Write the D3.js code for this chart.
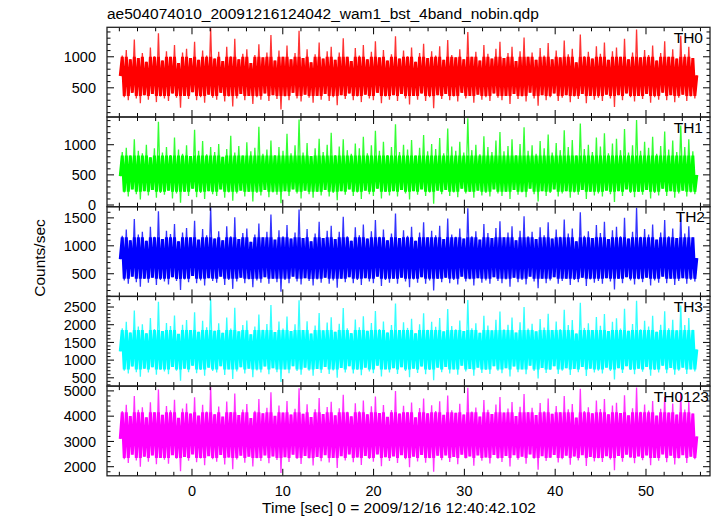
<!DOCTYPE html>
<html><head><meta charset="utf-8">
<script src="https://cdn.jsdelivr.net/npm/d3@7"></script>
<style>body{margin:0;background:#fff}svg text{font-family:"Liberation Sans",Arial,Helvetica,sans-serif;fill:#000}</style>
</head><body><script>
// ---- data (counts/sec, read/estimated from the reference) ----
const th0=[690,1020,350,1110,300,960,420,1280,330,980,250,1060,380,920,310,1150,400,1010,270,1380,360,940,330,1090,
290,1000,410,1190,340,900,180,1070,370,1130,320,980,430,1240,300,950,350,1100,260,1020,390,1460,340,970,
310,1080,420,930,280,1160,360,1010,200,1290,330,960,400,1050,300,1120,370,900,240,1030,350,1200,310,990,
410,1070,290,1350,380,940,320,1100,150,1000,360,1180,300,960,420,1060,330,1420,280,980,390,1120,340,910,
260,1040,370,1230,310,970,400,1090,290,1160,350,950,220,1070,380,1300,320,1000,410,930,300,1140,360,1020,
270,1190,390,960,330,1080,300,1250,420,990,250,1110,360,940,310,1040,380,1330,290,970,400,1100,330,1010,
230,1150,370,920,310,1060,410,1210,290,980,350,1090,170,1020,380,1170,320,950,400,1270,300,1030,360,990,
280,1120,420,960,330,1400,370,1000,260,1080,390,940,310,1190,350,1050,290,970,410,1130,340,1240,300,980,
370,1060,240,1160,400,930,320,1090,360,1310,280,1000,420,1070,330,950,210,1140,380,1020,300,1220,350,960,
410,1100,290,990,340,1260,380,1040,270,1130,360,910,320,1360,400,1010,250,1080,370,970,310,1170,340,1050,
290,1230,390,950,330,1090,190,1150,380,1000,300,1290,410,960,350,1070,280,1440,370,990,320,1110,400,1030,
260,1180,350,940,310,1060,420,1250,300,1000,380,1120,270,970,340,1340,390,1040,290,1160,360,980,330,700];
const th1=[480,880,210,950,140,820,260,1090,180,900,90,860,230,1000,160,790,250,940,120,1380,200,870,170,960,
240,830,110,1120,190,920,40,850,220,990,150,810,270,1250,130,900,200,1060,100,840,230,960,180,880,
150,1010,260,800,120,930,210,1150,70,870,190,980,240,820,140,1040,220,890,60,950,200,1300,160,850,
250,920,130,1070,210,830,170,960,30,900,230,1180,150,860,260,990,190,1420,110,870,240,1030,180,810,
120,940,220,1100,160,880,250,1000,140,1200,200,830,80,970,230,1090,170,910,260,850,150,1020,210,940,
100,1130,240,860,180,990,150,1230,270,900,110,1050,220,830,160,960,230,1340,140,880,250,1000,190,920,
90,1080,230,820,170,950,260,1160,150,890,210,1010,20,930,240,1110,180,860,250,1270,150,970,210,900,
130,1050,270,870,190,1440,220,910,120,1000,240,840,160,1140,200,960,140,880,260,1070,190,1210,150,890,
220,980,100,1090,250,830,170,1010,210,1290,130,900,270,990,180,850,60,1060,230,940,150,1170,200,870,
260,1030,140,910,190,1240,230,960,120,1080,210,820,170,1350,250,930,100,1000,220,880,160,1120,190,970,
140,1190,240,860,180,1020,50,1100,230,910,150,1260,260,870,200,990,130,1410,220,900,170,1050,250,950,
110,1130,200,850,160,980,270,1220,150,920,230,1070,120,880,190,1320,240,960,140,1090,210,890,180,500];
const th2=[760,1180,380,1290,320,1100,450,1480,350,1200,270,1250,410,1090,340,1340,430,1160,300,1620,390,1120,360,1270,
310,1210,440,1390,370,1080,210,1240,400,1320,350,1150,460,1450,330,1110,380,1300,290,1190,420,1690,370,1130,
340,1260,450,1100,300,1350,390,1170,230,1510,360,1120,430,1230,330,1310,400,1070,260,1200,380,1400,340,1150,
440,1250,320,1560,410,1110,350,1280,180,1170,390,1370,330,1130,450,1240,360,1650,310,1140,420,1300,370,1080,
290,1220,400,1430,340,1140,430,1270,320,1360,380,1120,250,1250,410,1520,350,1170,440,1090,330,1330,390,1190,
300,1380,420,1130,360,1260,330,1460,450,1160,280,1290,390,1100,340,1220,410,1580,320,1140,430,1280,360,1180,
260,1340,400,1090,340,1240,440,1420,320,1150,380,1270,200,1190,410,1360,350,1120,430,1490,330,1200,390,1160,
310,1310,450,1130,360,1670,400,1170,290,1260,420,1110,340,1390,380,1230,320,1140,440,1320,370,1440,330,1150,
400,1240,270,1350,430,1100,350,1270,390,1530,310,1170,450,1250,360,1120,240,1330,410,1190,330,1420,380,1130,
440,1290,320,1160,370,1470,410,1220,300,1310,390,1080,350,1600,430,1180,280,1260,400,1140,340,1370,370,1230,
320,1430,420,1120,360,1280,220,1340,410,1170,330,1500,440,1130,380,1250,310,1680,400,1160,350,1300,430,1200,
290,1380,380,1110,340,1240,450,1460,330,1170,410,1310,300,1140,370,1560,420,1220,320,1350,390,1150,360,780];
const th3=[1250,1900,700,2080,620,1780,820,2400,660,1950,530,2010,760,1760,650,2190,800,1880,590,2650,730,1820,680,2050,
600,1960,810,2260,700,1740,420,2000,760,2130,660,1850,840,2350,630,1800,720,2110,560,1930,790,2720,690,1830,
650,2040,830,1770,580,2200,740,1890,470,2480,680,1810,800,1990,620,2120,760,1730,520,1950,710,2290,650,1860,
820,2020,600,2560,770,1790,660,2090,380,1890,740,2230,630,1820,830,2010,690,2690,590,1850,790,2100,700,1750,
560,1980,750,2330,640,1840,810,2060,610,2210,710,1800,500,2030,780,2470,650,1900,830,1760,620,2150,730,1930,
570,2240,790,1830,680,2050,630,2390,840,1880,540,2090,740,1780,650,1990,770,2600,610,1850,800,2070,690,1910,
520,2170,760,1760,640,2010,820,2320,600,1860,720,2080,430,1940,790,2190,660,1810,810,2440,620,1960,740,1870,
590,2120,840,1820,680,2700,750,1900,560,2040,790,1770,640,2250,720,1980,610,1840,830,2140,700,2370,630,1870,
770,2000,540,2200,820,1780,660,2070,740,2500,600,1890,840,2030,690,1810,480,2160,780,1920,640,2310,720,1850,
830,2090,610,1880,700,2420,770,1990,580,2130,750,1750,660,2620,810,1910,550,2040,760,1850,650,2220,700,1970,
620,2300,790,1820,690,2080,450,2180,770,1890,640,2450,830,1830,720,2020,600,2680,760,1870,670,2110,810,1950,
560,2250,720,1800,650,2000,840,2380,630,1900,780,2140,590,1840,700,2540,790,1990,610,2190,740,1860,680,1300];
const th0123=[3100,4200,2300,4450,2150,4000,2480,4800,2250,4250,2000,4350,2400,3950,2200,4550,2450,4150,2100,5050,2350,4050,2280,4400,
2120,4230,2460,4650,2320,3930,1820,4300,2390,4500,2240,4100,2490,4750,2180,4020,2330,4450,2060,4180,2420,5150,2300,4070,
2200,4380,2470,3980,2090,4580,2370,4160,1900,4900,2290,4040,2440,4260,2160,4480,2400,3920,2010,4210,2340,4680,2230,4110,
2450,4330,2140,4950,2410,4010,2270,4420,1750,4140,2380,4600,2190,4060,2480,4290,2310,5100,2110,4090,2430,4470,2330,3960,
2050,4270,2390,4720,2220,4080,2460,4360,2170,4570,2350,4030,1950,4310,2420,4850,2250,4170,2490,3990,2180,4510,2370,4190,
2070,4620,2430,4070,2310,4390,2200,4780,2490,4120,2020,4440,2380,3970,2230,4240,2410,5000,2150,4100,2460,4410,2300,4150,
1980,4540,2400,3950,2210,4320,2470,4700,2160,4110,2340,4430,1800,4200,2440,4590,2260,4050,2450,4820,2190,4230,2390,4130,
2100,4490,2480,4060,2330,5120,2410,4180,2040,4340,2450,3980,2240,4640,2370,4250,2130,4080,2470,4460,2320,4760,2190,4140,
2430,4300,2010,4560,2460,4000,2280,4370,2400,4880,2120,4160,2490,4330,2320,4040,1880,4520,2420,4190,2230,4700,2360,4090,
2470,4400,2170,4150,2300,4800,2440,4270,2080,4480,2410,3940,2250,5080,2460,4200,2030,4350,2390,4110,2210,4620,2340,4280,
2190,4680,2420,4070,2290,4420,1860,4530,2430,4120,2200,4830,2480,4030,2370,4310,2140,5130,2410,4170,2260,4460,2450,4220,
2060,4600,2350,4020,2240,4290,2490,4760,2180,4140,2440,4500,2090,4060,2330,4920,2460,4260,2150,4580,2400,4100,2300,3200];

const seriesNames=["TH0","TH1","TH2","TH3","TH0123"];
const seriesValues=[th0,th1,th2,th3,th0123];
const seriesColors=["#ff0000","#00ff00","#0000ff","#00ffff","#ff00ff"];
// dense, saturated part of each band
const coreBands=[[370,1000],[220,820],[410,1150],[740,1850],[2350,4150]];
const yDomains=[[30,1475],[-28,1460],[95,1700],[266,2800],[1640,5190]];
const yTickLabels=[[500,1000],[0,500,1000],[500,1000,1500],[500,1000,1500,2000,2500],[2000,3000,4000,5000]];
const yMinorStep=[100,100,100,100,200];
const xDomain=[-9.36,57.05];
const xTickLabels=[0,10,20,30,40,50];
const xMinorStep=2;
const timeRange=[-7.9,55.6];
const titleText="ae504074010_20091216124042_wam1_bst_4band_nobin.qdp";
const xLabel="Time [sec] 0 = 2009/12/16 12:40:42.102";
const yLabel="Counts/sec";

// ---- layout ----
const W=717,H=516,L=107,R=710,TOP=27.3,PH=89.7;
const svg=d3.select("body").append("svg").attr("width",W).attr("height",H);
const x=d3.scaleLinear().domain(xDomain).range([L,R]);
const labelRight=[703,703,705,703,709];

seriesValues.forEach((vals,k)=>{
  const top=TOP+k*PH, bot=top+PH;
  const y=d3.scaleLinear().domain(yDomains[k]).range([bot,top]);
  const n=vals.length;
  const t=d3.range(n).map(i=>timeRange[0]+i*(timeRange[1]-timeRange[0])/(n-1));
  const cid="clip"+k;
  svg.append("clipPath").attr("id",cid).append("rect").attr("x",L).attr("y",top).attr("width",R-L).attr("height",PH);
  const lineThin=d3.line().x((d,i)=>x(t[i])).y(d=>y(d));
  const cb=coreBands[k];
  const lineCore=d3.line().x((d,i)=>x(t[i])).y(d=>y(Math.max(cb[0],Math.min(cb[1],d))));
  svg.append("path").datum(vals)
    .attr("clip-path",`url(#${cid})`)
    .attr("fill","none").attr("stroke",seriesColors[k]).attr("stroke-width",1.3).attr("stroke-opacity",0.8)
    .attr("d",lineThin);
  svg.append("path").datum(vals)
    .attr("clip-path",`url(#${cid})`)
    .attr("fill","none").attr("stroke",seriesColors[k]).attr("stroke-width",3)
    .attr("d",lineCore);
  const g=svg.append("g").attr("stroke","#000").attr("stroke-width",1);
  // y ticks
  const d0=yDomains[k][0], d1=yDomains[k][1], st=yMinorStep[k];
  d3.range(Math.ceil(d0/st)*st,d1,st).forEach(v=>{
    const major=yTickLabels[k].includes(v)||(Math.abs(v%(st*5))<1e-6);
    const len=major?7:3.5;
    g.append("line").attr("x1",L).attr("x2",L+len).attr("y1",y(v)).attr("y2",y(v));
    g.append("line").attr("x1",R).attr("x2",R-len).attr("y1",y(v)).attr("y2",y(v));
  });
  // x ticks
  d3.range(Math.ceil(xDomain[0]/xMinorStep)*xMinorStep,xDomain[1],xMinorStep).forEach(v=>{
    const major=Math.abs(v%10)<1e-6;
    const len=major?7:4;
    g.append("line").attr("x1",x(v)).attr("x2",x(v)).attr("y1",top).attr("y2",top+len);
    g.append("line").attr("x1",x(v)).attr("x2",x(v)).attr("y1",bot).attr("y2",bot-len);
  });
  // frame
  svg.append("rect").attr("x",L).attr("y",top).attr("width",R-L).attr("height",PH)
    .attr("fill","none").attr("stroke","#222").attr("stroke-width",1.3);
  // y labels
  yTickLabels[k].forEach(v=>{
    svg.append("text").attr("x",96).attr("y",y(v)).attr("dy","0.36em")
      .attr("text-anchor","end").attr("font-size",14.5).text(d3.format("d")(v));
  });
  svg.append("text").attr("x",labelRight[k]).attr("y",top+15.5).attr("text-anchor","end")
    .attr("font-size",15.5).text(seriesNames[k]);
});

// x tick labels
const bottom=TOP+5*PH;
xTickLabels.forEach(v=>{
  svg.append("text").attr("x",x(v)).attr("y",bottom+20).attr("text-anchor","middle").attr("font-size",14.5).text(v);
});
svg.append("text").attr("x",399).attr("y",513).attr("text-anchor","middle").attr("font-size",15.5).text(xLabel);
svg.append("text").attr("x",L).attr("y",19).attr("font-size",15.5).text(titleText);
svg.append("text").attr("transform","translate(45,258) rotate(-90)").attr("text-anchor","middle").attr("font-size",15.5).text(yLabel);
</script></body></html>
